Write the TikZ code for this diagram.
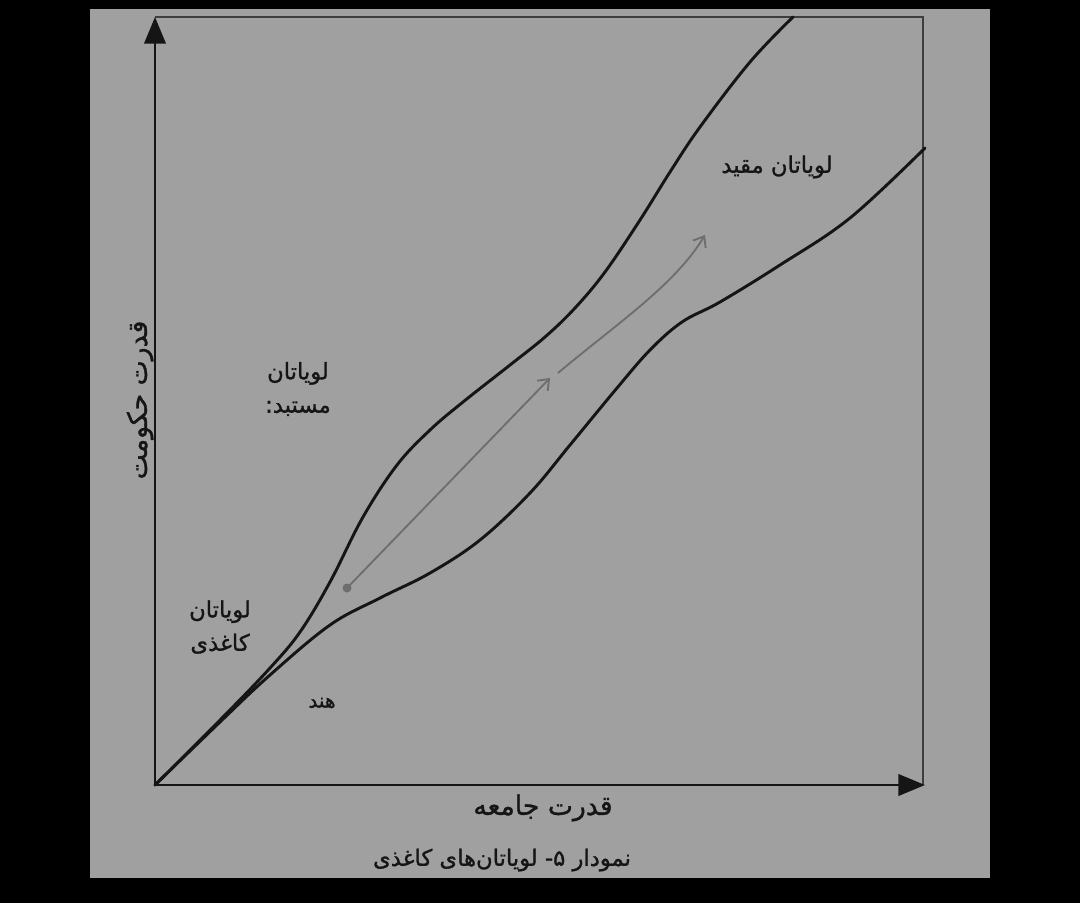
\documentclass[tikz,border=0pt]{standalone}
\usepackage{fontspec}
\newfontfamily\arabicfont[Script=Arabic,FakeBold=1.2]{DejaVu Sans}
\TeXXeTstate=1
\usetikzlibrary{arrows.meta}
\definecolor{panel}{HTML}{A0A0A0}
\definecolor{ink}{HTML}{151515}
\definecolor{framec}{HTML}{3E3E3E}
\definecolor{arrowc}{HTML}{6E6E6E}
\tikzset{
  curvestyle/.style={ink, line width=2.2pt, line cap=round},
  axisstyle/.style={ink, line width=2.2pt, -{Triangle[length=20pt,width=16pt]}},
  framestyle/.style={framec, line width=1.5pt},
  trendstyle/.style={arrowc, line width=1.4pt, -{Straight Barb[length=7pt,width=11pt,line width=1.4pt]}},
  lab/.style={text=ink, font=\arabicfont\fontsize{17}{25}\selectfont, align=center, inner sep=0pt},
}
\begin{document}
\begin{tikzpicture}[x=0.75pt,y=-0.75pt]
\useasboundingbox (0,0) rectangle (1080,903);
\fill[black] (0,0) rectangle (1080,903);
\fill[panel] (90,9) rectangle (990,878);
% frame
\coordinate (origin) at (155,785);
\coordinate (ytop) at (155,17);
\coordinate (xend) at (925,785);
\coordinate (tr) at (923,17);
\coordinate (br) at (923,785);
\draw[framestyle] (ytop) -- (tr) -- (br);
% curves
\draw[curvestyle] plot[smooth, tension=0.6] coordinates {(155,785) (225,715) (270,668) (300,632) (330,582) (363,517) (397,465) (430,430) (463,402) (510,365) (545,337) (575,308) (605,272) (640,220) (670,172) (700,127) (750,62) (793,17)};
\draw[curvestyle] plot[smooth, tension=0.6] coordinates {(155,785) (220,722) (270,675) (330,625) (380,598) (430,573) (480,540) (530,493) (570,445) (617,388) (650,350) (682,322) (720,302) (780,265) (850,218) (925,148)};
% axes
\draw[axisstyle] (origin) -- (ytop);
\draw[axisstyle] (origin) -- (xend);
% trend arrows
\coordinate (a1) at (347,588);
\coordinate (a2) at (550,378);
\coordinate (b1) at (558,373);
\coordinate (b2) at (705,235);
\fill[arrowc] (a1) circle[radius=4.5];
\draw[trendstyle] (a1) -- (a2);
\draw[trendstyle] (b1) .. controls (615,325) and (675,285) .. (b2);
% labels
\node[lab] (moqayyad) at (777,167) {\beginR لویاتان مقید\endR};
\node[lab] (mostabed) at (298,389) {\beginR لویاتان\endR\\\beginR مستبد:\endR};
\node[lab] (kaghazi) at (220,627) {\beginR لویاتان\endR\\\beginR کاغذی\endR};
\node[lab, font=\arabicfont\fontsize{15}{18}\selectfont] (hend) at (322,703) {\beginR هند\endR};
\node[lab, font=\arabicfont\fontsize{20}{24}\selectfont] (xlab) at (543,808) {\beginR قدرت جامعه\endR};
\node[lab, font=\arabicfont\fontsize{20}{24}\selectfont, rotate=90] (ylab) at (140,400) {\beginR قدرت حکومت\endR};
\node[lab, font=\arabicfont\fontsize{17}{20}\selectfont] (caption) at (502,860) {\beginR نمودار ۵- لویاتان‌های کاغذی\endR};
\end{tikzpicture}
\end{document}
